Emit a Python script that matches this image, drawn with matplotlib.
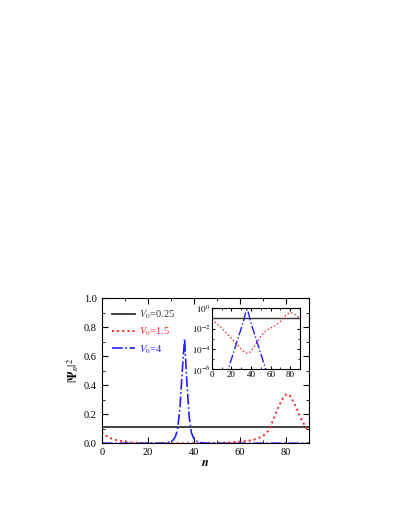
import numpy as np
import matplotlib
matplotlib.use('Agg')
from matplotlib import pyplot as plt

plt.rcParams['font.family'] = ['Liberation Serif', 'DejaVu Serif']
plt.rcParams['mathtext.fontset'] = 'stix'

n = np.arange(0, 91)

# V0 = 0.25, extended state
black_vals = [0.11] * 91

# V0 = 1.5, log10 of |psi_n|^2
red_log10 = [-1.12, -1.21, -1.29, -1.37, -1.46, -1.55, -1.63, -1.71, -1.79, -1.87,
             -1.95, -2.05, -2.15, -2.25, -2.35, -2.45, -2.55, -2.65, -2.75, -2.85,
             -2.95, -3.06, -3.17, -3.28, -3.39, -3.50, -3.60, -3.70, -3.80, -3.90,
             -4.00, -4.09, -4.18, -4.26, -4.33, -4.38, -4.42, -4.42, -4.38, -4.30,
             -4.20, -4.07, -3.93, -3.79, -3.65, -3.50, -3.35, -3.20, -3.05, -2.90,
             -2.75, -2.64, -2.54, -2.44, -2.34, -2.25, -2.19, -2.13, -2.07, -2.01,
             -1.95, -1.90, -1.85, -1.80, -1.75, -1.70, -1.62, -1.54, -1.46, -1.38,
             -1.30, -1.20, -1.10, -1.00, -0.85, -0.74, -0.66, -0.59, -0.54, -0.50,
             -0.475, -0.47, -0.49, -0.53, -0.58, -0.64, -0.72, -0.80, -0.89, -0.98,
             -1.07]

# V0 = 4, localized state
blue_vals = [0, 0, 0, 0, 0, 0, 0, 0, 0, 0,
             0, 0, 0, 0, 1.7e-7, 3.4e-7, 6.8e-7, 1.35e-6, 2.7e-6, 5.4e-6,
             1.07e-5, 2.1e-5, 4.3e-5, 8.5e-5, 1.7e-4, 3.4e-4, 6.8e-4, 1.35e-3, 2.7e-3, 5.4e-3,
             0.0107, 0.022, 0.045, 0.10, 0.25, 0.50, 0.72, 0.42, 0.18, 0.07,
             0.033, 0.016, 0.0079, 0.004, 0.002, 1.0e-3, 5.0e-4, 2.5e-4, 1.26e-4, 6.3e-5,
             3.2e-5, 1.6e-5, 7.9e-6, 4.0e-6, 2.0e-6, 1.0e-6, 5.0e-7, 2.5e-7, 0, 0,
             0, 0, 0, 0, 0, 0, 0, 0, 0, 0,
             0, 0, 0, 0, 0, 0, 0, 0, 0, 0,
             0, 0, 0, 0, 0, 0, 0, 0, 0, 0,
             0]

labels = ['$V_0$=0.25', '$V_0$=1.5', '$V_0$=4']
colors = ['#333333', '#ff2020', '#2020ff']

red_vals = 10.0 ** np.array(red_log10)
blue_arr = np.array(blue_vals, dtype=float)

fig = plt.figure(figsize=(3.99, 5.16), dpi=100)
ax = fig.add_axes([0.255, 0.141, 0.519, 0.281])

ax.plot(n, black_vals, '-', color=colors[0], lw=1.3, label=labels[0])
ax.plot(n, red_vals, ':', color=colors[1], lw=1.4, label=labels[1])
ax.plot(n, blue_arr, '-.', color=colors[2], lw=1.2, label=labels[2])

ax.set_xlim(0, 90)
ax.set_ylim(0, 1.0)
ax.set_xticks([0, 20, 40, 60, 80])
ax.set_xticks(range(10, 90, 20), minor=True)
ax.set_yticks(np.arange(0, 1.01, 0.2))
ax.set_yticks(np.arange(0.1, 1.0, 0.2), minor=True)
ax.yaxis.set_major_formatter(matplotlib.ticker.FormatStrFormatter('%.1f'))
ax.tick_params(which='both', direction='in', top=True, right=True, labelsize=7.5)
ax.tick_params(which='major', length=4)
ax.tick_params(which='minor', length=2)
ax.set_xlabel('$\\boldsymbol{n}$', fontsize=9, labelpad=0)
ax.set_ylabel('$|\\mathbf{\\Psi}_n|^2$', fontsize=8.5, labelpad=2)

leg = ax.legend(loc='upper left', frameon=False, fontsize=7.5,
                handlelength=2.2, handletextpad=0.4, labelspacing=0.45,
                borderaxespad=0.6)
for t, c in zip(leg.get_texts(), colors):
    t.set_color(c)

# inset on a log scale
ins = fig.add_axes([0.531, 0.284, 0.221, 0.119])
ins.plot(n, black_vals, '-', color=colors[0], lw=1.0)
ins.plot(n, red_vals, ':', color=colors[1], lw=1.0)
blue_log = np.where(blue_arr > 0, blue_arr, np.nan)
ins.plot(n, blue_log, '-.', color=colors[2], lw=1.0)
ins.set_yscale('log')
ins.set_xlim(0, 90)
ins.set_ylim(1e-6, 1)
ins.set_xticks([0, 20, 40, 60, 80])
ins.set_xticks(range(10, 90, 20), minor=True)
ins.set_yticks([1e-6, 1e-4, 1e-2, 1])
ins.set_yticks([1e-5, 1e-3, 1e-1], minor=True)
ins.yaxis.set_minor_formatter(matplotlib.ticker.NullFormatter())
ins.set_yticklabels(['$10^{-6}$', '$10^{-4}$', '$10^{-2}$', '$10^{0}$'])
ins.tick_params(which='both', direction='in', top=True, right=True, labelsize=6.5, pad=1)
ins.tick_params(which='major', length=2.5)
ins.tick_params(which='minor', length=1.5)

fig.savefig('out.png', dpi=100)
